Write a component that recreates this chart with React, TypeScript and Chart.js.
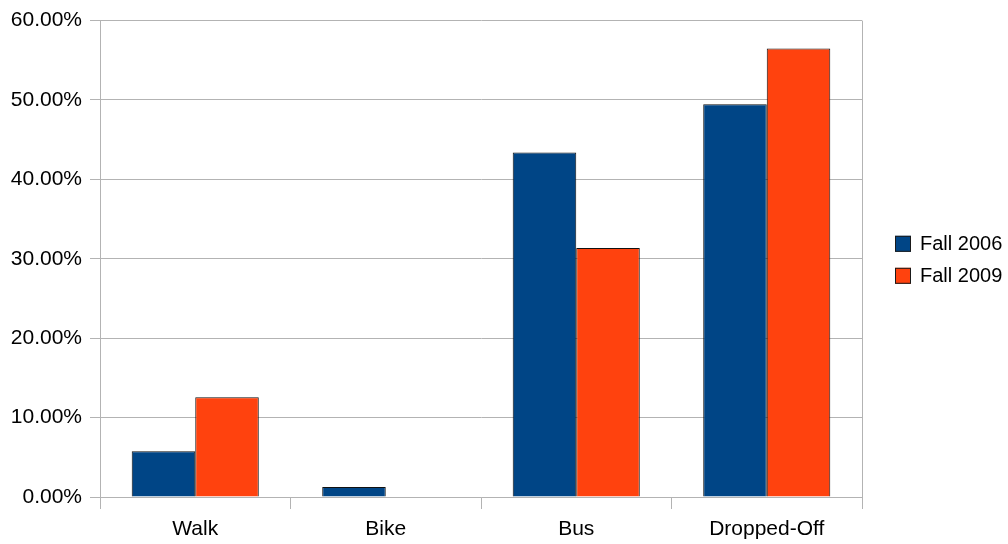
import { useEffect, useRef } from "react";
import { Chart, registerables } from "chart.js";

Chart.register(...registerables);

// How students get to school, share of each mode
const categories = ["Walk", "Bike", "Bus", "Dropped-Off"];
const fall2006 = [5.76, 1.25, 43.4, 49.45];
const fall2009 = [12.55, 0, 31.35, 56.5];
const seriesNames = ["Fall 2006", "Fall 2009"];
const seriesColors = ["#004586", "#ff420e"];
const yMin = 0;
const yMax = 60;
const yStep = 10;

const FONT = "'Liberation Sans', Arial, sans-serif";
const GRID = "#b3b3b3";

// Legend drawn beside the plot, vertically centred on it
const sideLegend = {
  id: "sideLegend",
  afterDraw(chart: any) {
    const { ctx, chartArea } = chart;
    const boxX = chartArea.right + 33;
    const midY = (chartArea.top + chartArea.bottom) / 2;
    const rowGap = 32;
    const box = 16;
    const datasets = chart.data.datasets;
    const firstCenter = midY + 1 - ((datasets.length - 1) * rowGap) / 2;
    ctx.save();
    datasets.forEach((ds: any, i: number) => {
      const cy = firstCenter + i * rowGap;
      ctx.fillStyle = ds.backgroundColor;
      ctx.fillRect(boxX, cy - box / 2, box, box);
      ctx.strokeStyle = "#1a1a1a";
      ctx.lineWidth = 1;
      ctx.strokeRect(boxX + 0.5, cy - box / 2 + 0.5, box - 1, box - 1);
      ctx.fillStyle = "#000";
      ctx.font = `20px ${FONT}`;
      ctx.textBaseline = "middle";
      ctx.textAlign = "left";
      ctx.fillText(ds.label, boxX + box + 9, cy + 1);
    });
    ctx.restore();
  },
};

export default function App() {
  const canvasRef = useRef<HTMLCanvasElement | null>(null);

  useEffect(() => {
    if (!canvasRef.current) return;
    const barStyle = {
      barPercentage: 1,
      categoryPercentage: 0.667,
      borderColor: "#111111",
      borderWidth: (c: any) => (c.raw === 0 ? 0 : 1),
    };
    const chart = new Chart(canvasRef.current, {
      type: "bar",
      data: {
        labels: categories,
        datasets: [
          { label: seriesNames[0], data: fall2006, backgroundColor: seriesColors[0], ...barStyle },
          { label: seriesNames[1], data: fall2009, backgroundColor: seriesColors[1], ...barStyle },
        ],
      },
      options: {
        animation: false,
        responsive: true,
        maintainAspectRatio: false,
        layout: { padding: { top: 17, right: 146, left: 0, bottom: 0 } },
        plugins: {
          legend: { display: false },
          tooltip: { enabled: false },
        },
        scales: {
          x: {
            grid: {
              offset: true,
              drawOnChartArea: true,
              color: (c: any) => (c.type === "tick" ? "rgba(0,0,0,0)" : GRID),
              tickColor: GRID,
              tickLength: 12,
            },
            border: { color: GRID },
            ticks: { color: "#000", font: { size: 21, family: FONT }, padding: 8 },
            afterFit: (s: any) => {
              s.height = 47;
            },
          },
          y: {
            min: yMin,
            max: yMax,
            grid: { color: GRID, tickColor: GRID, tickLength: 10 },
            border: { color: GRID },
            ticks: {
              stepSize: yStep,
              color: "#000",
              font: { size: 21, family: FONT },
              padding: 8,
              callback: (v: any) => Number(v).toFixed(2) + "%",
            },
            afterFit: (s: any) => {
              s.width = 100;
            },
          },
        },
      },
      plugins: [sideLegend],
    });
    return () => chart.destroy();
  }, []);

  return (
    <div style={{ position: "fixed", left: 0, top: 0, width: 1008, height: 544, background: "#fff" }}>
      <canvas ref={canvasRef} />
    </div>
  );
}
